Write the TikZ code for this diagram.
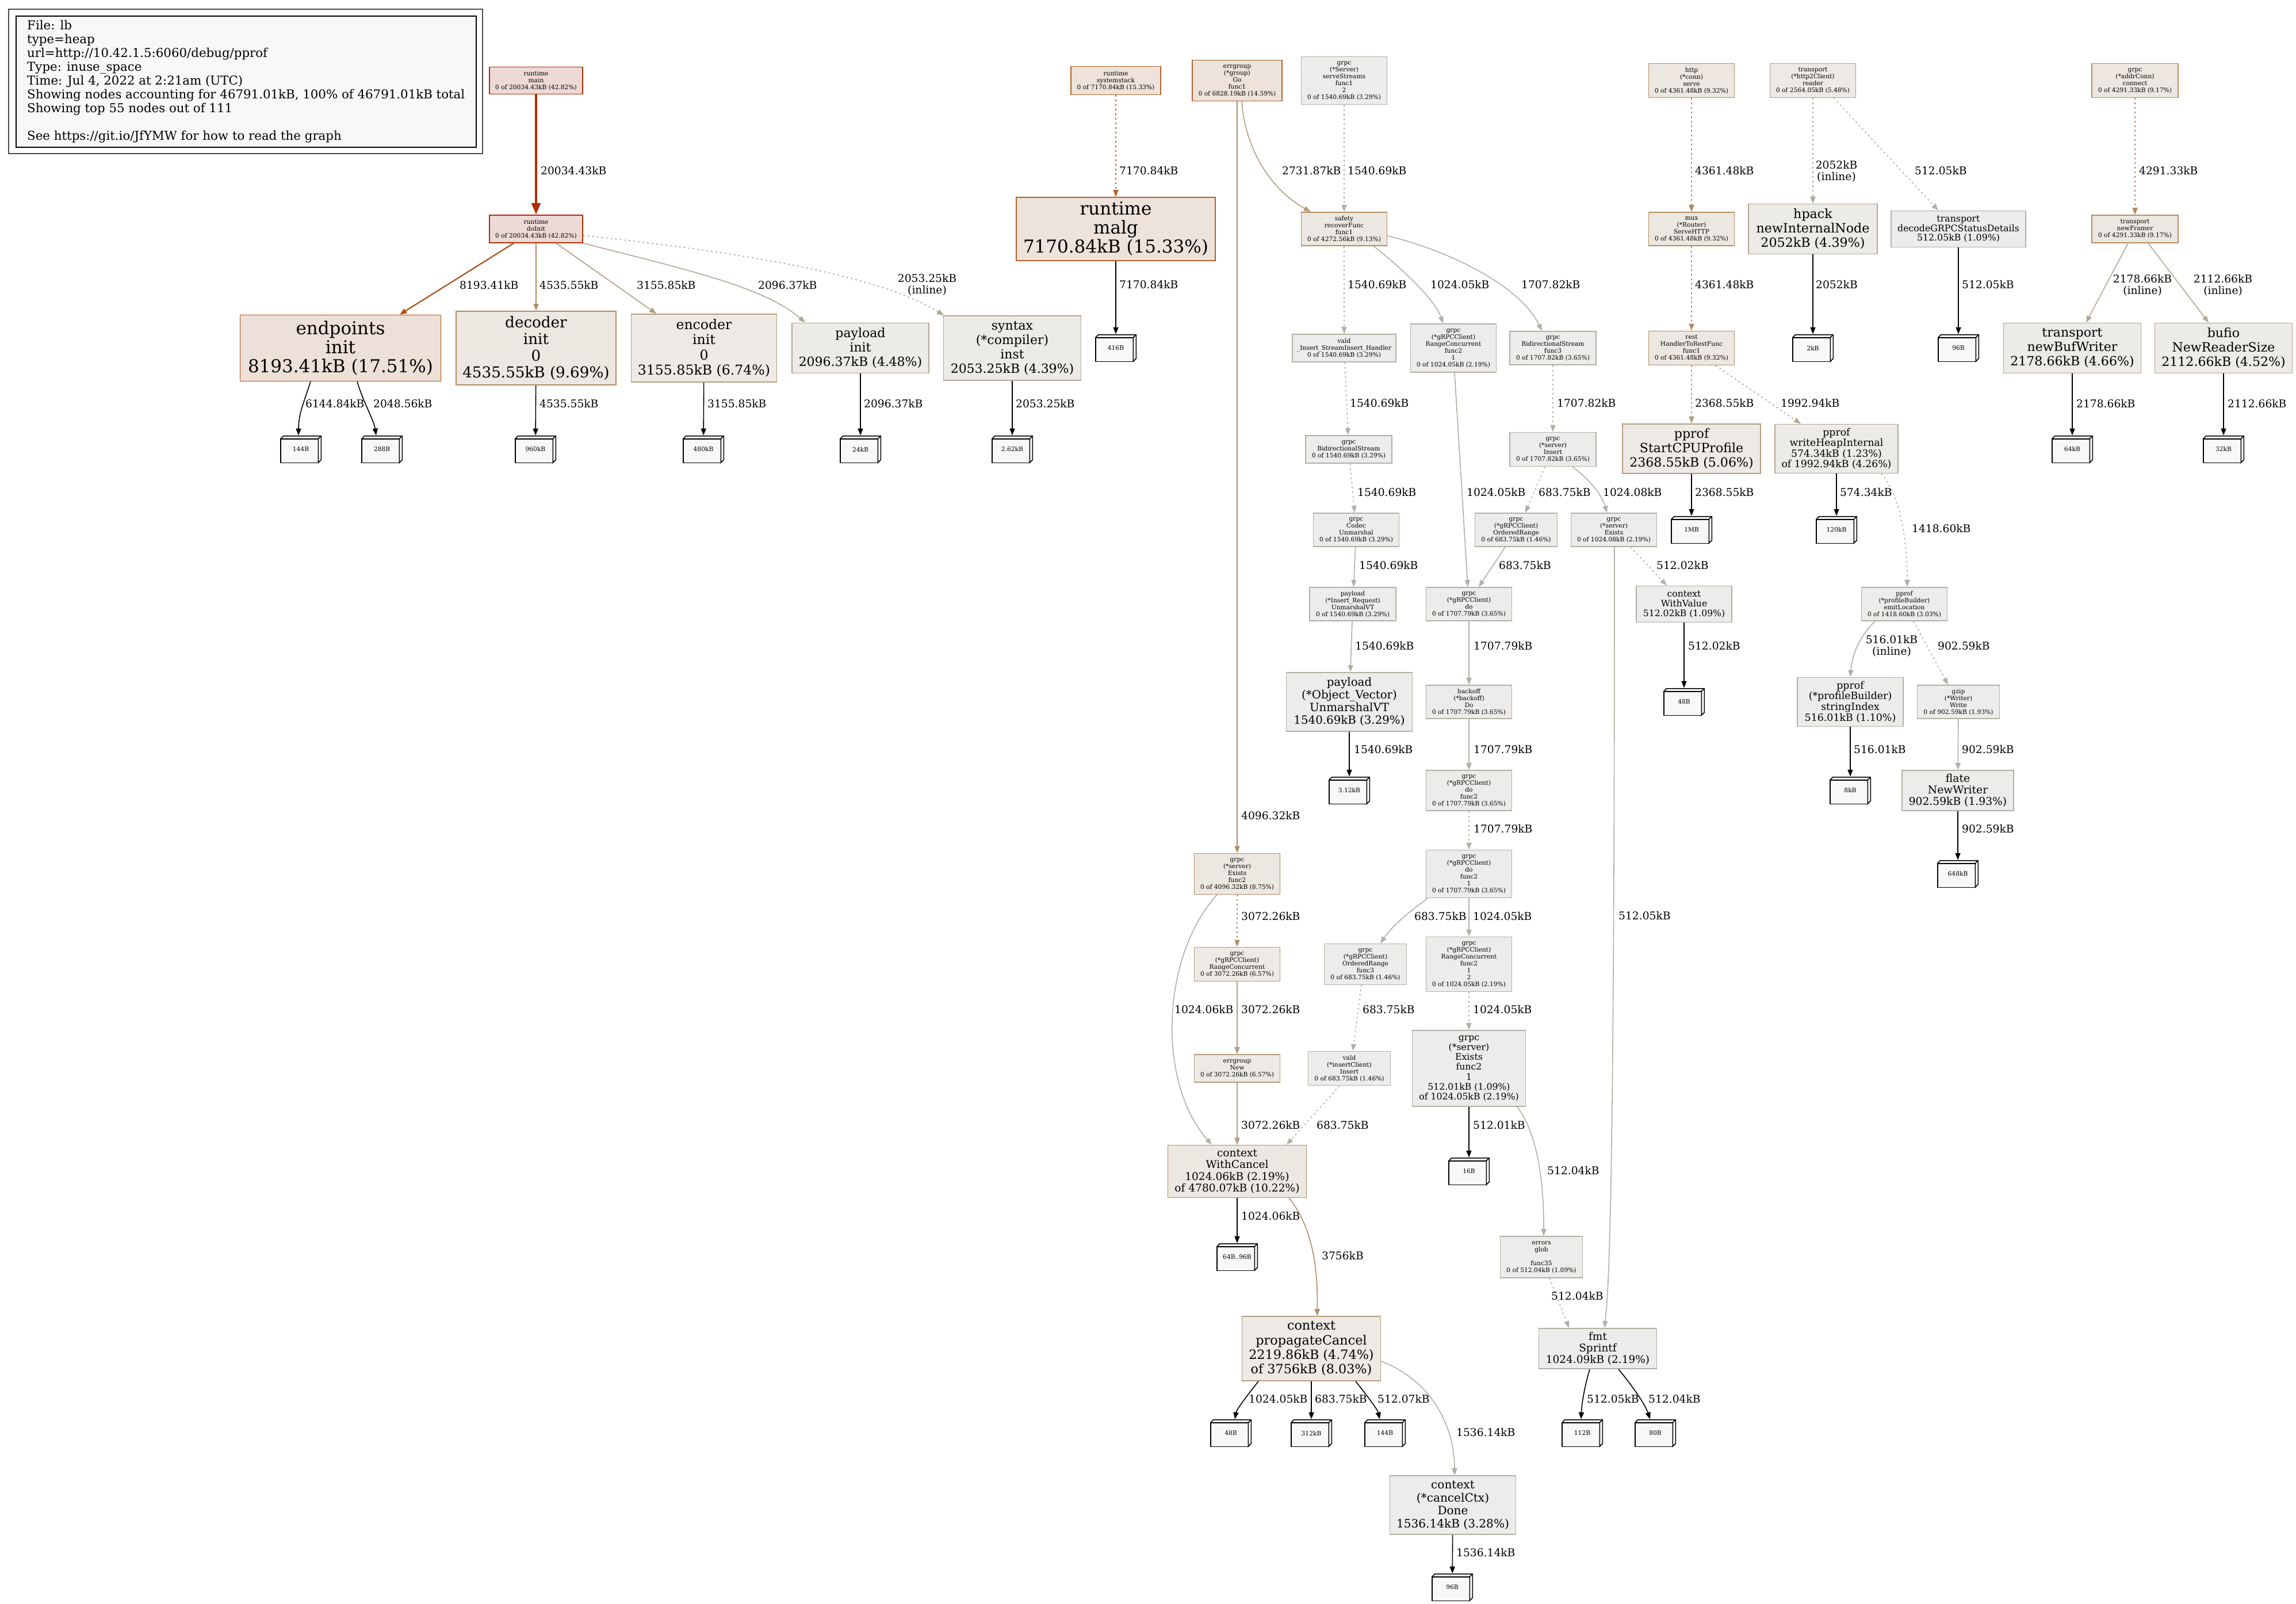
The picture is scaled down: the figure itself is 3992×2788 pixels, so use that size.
\documentclass[tikz,border=0pt]{standalone}
\usepackage{fontspec}
\setmainfont{DejaVu Serif}
\usetikzlibrary{arrows.meta}

\definecolor{hotfill}{HTML}{EDD9D5}
\definecolor{hotline}{HTML}{B22D00}
\definecolor{orfill}{HTML}{EDE0D8}
\definecolor{orline}{HTML}{B24F16}
\definecolor{brfill}{HTML}{EDE3DB}
\definecolor{brline}{HTML}{B2622B}
\definecolor{tanfill}{HTML}{EDE7E1}
\definecolor{tanline}{HTML}{B28E62}
\definecolor{ltfill}{HTML}{EDE9E5}
\definecolor{ltline}{HTML}{B29D7C}
\definecolor{grfill}{HTML}{EDEBE8}
\definecolor{grline}{HTML}{B2A793}
\definecolor{gyfill}{HTML}{EDECEA}
\definecolor{gyline}{HTML}{B2AFA6}
\definecolor{leaffill}{HTML}{F8F8F8}
\definecolor{cEor}{HTML}{B28A5C}

\tikzset{
  fnode/.style={draw, line width=1.6pt, inner sep=0pt, align=center},
  hotnode/.style={fnode, fill=hotfill, draw=hotline},
  ornode/.style={fnode, fill=orfill, draw=orline},
  brnode/.style={fnode, fill=brfill, draw=brline},
  tannode/.style={fnode, fill=tanfill, draw=tanline},
  ltnode/.style={fnode, fill=ltfill, draw=ltline},
  grnode/.style={fnode, fill=grfill, draw=grline},
  gynode/.style={fnode, fill=gyfill, draw=gyline},
  wh/.style 2 args={minimum width=#1pt, minimum height=#2pt},
  fnt/.style 2 args={font=\fontsize{#1}{#2}\selectfont},
  sm/.style={fnt={10.67}{12}},
  leafline/.style={draw=black, fill=leaffill, line width=1.5pt},
  leaf/.style={minimum width=72pt, minimum height=48pt, inner sep=0pt, fill=white, sm,
    path picture={
      \path (path picture bounding box.south west) coordinate (lsw);
      \filldraw[leafline] ([shift={(0.75pt,0.75pt)}]lsw) rectangle ([shift={(66.25pt,42.25pt)}]lsw);
      \filldraw[leafline] ([shift={(0.75pt,42.25pt)}]lsw) -- ([shift={(5.75pt,47.25pt)}]lsw)
        -- ([shift={(71.25pt,47.25pt)}]lsw) -- ([shift={(71.25pt,5.75pt)}]lsw)
        -- ([shift={(66.25pt,0.75pt)}]lsw) -- ([shift={(66.25pt,42.25pt)}]lsw) -- cycle;
      \draw[leafline] ([shift={(66.25pt,42.25pt)}]lsw) -- ([shift={(71.25pt,47.25pt)}]lsw);
    }},
  arr/.style={-{Triangle[length=12pt,width=9pt]}, line width=1.6pt},
  ind/.style={dash pattern=on 3pt off 5pt},
  mainedge/.style={color=hotline, line width=4.5pt, -{Triangle[length=20pt,width=15pt]}},
  eendp/.style={color=orline, line width=2.2pt},
  ebr/.style={color=brline},
  etan/.style={color=tanline},
  elt/.style={color=ltline},
  egr/.style={color=grline},
  egy/.style={color=gyline},
  eor/.style={color=cEor},
  eleaf/.style={color=black},
  lbl/.style={anchor=west, inner sep=0pt, fnt={18.67}{20.5}},
  lblc/.style={align=center, inner sep=0pt, fnt={18.67}{20.5}},
  legendbox/.style={draw=black, line width=1.6pt, fill=leaffill, anchor=north west, wh={800}{228},
    inner xsep=10pt, inner ysep=0pt, align=left, fnt={21.33}{24}},
  legendframe/.style={draw=black!70, line width=2pt},
}

\begin{document}
\begin{tikzpicture}[x=1pt,y=-1pt]
  \fill[white] (0,0) rectangle (3992,2788);
  \useasboundingbox (0,0) rectangle (3992,2788);

  \node[legendbox] (legend) at (27,27) {File: lb\\type=heap\\url=http://10.42.1.5:6060/debug/pprof\\Type: inuse\_space\\Time: Jul 4, 2022 at 2:21am (UTC)\\Showing nodes accounting for 46791.01kB, 100\% of 46791.01kB total\\Showing top 55 nodes out of 111\\[24pt]See https://git.io/JfYMW for how to read the graph};
  \draw[legendframe] ([xshift=-12pt,yshift=11pt]legend.north west) rectangle ([xshift=10pt,yshift=-10pt]legend.south east);

  \node[hotnode, sm, wh={162}{47}] (main) at (932,140) {runtime\\main\\0 of 20034.43kB (42.82\%)};
  \node[brnode, sm, wh={156}{49}] (sysstack) at (1940,140) {runtime\\systemstack\\0 of 7170.84kB (15.33\%)};
  \node[brnode, sm, wh={156}{71}] (errgo) at (2151,140) {errgroup\\(*group)\\Go\\func1\\0 of 6828.19kB (14.59\%)};
  \node[gynode, sm, wh={149}{83}] (serve) at (2337,140) {grpc\\(*Server)\\serveStreams\\func1\\2\\0 of 1540.69kB (3.29\%)};
  \node[tannode, sm, wh={149}{59}] (conn) at (2941,140) {http\\(*conn)\\serve\\0 of 4361.48kB (9.32\%)};
  \node[ltnode, sm, wh={149}{59}] (reader) at (3152,140) {transport\\(*http2Client)\\reader\\0 of 2564.05kB (5.48\%)};
  \node[tannode, sm, wh={150}{59}] (connect) at (3712,140) {grpc\\(*addrConn)\\connect\\0 of 4291.33kB (9.17\%)};

  \node[hotnode, sm, wh={162}{48}] (doinit) at (932,398) {runtime\\doInit\\0 of 20034.43kB (42.82\%)};
  \node[brnode, fnt={31}{33}, wh={346}{110}] (malg) at (1940,398) {runtime\\malg\\7170.84kB (15.33\%)};
  \node[tannode, sm, wh={149}{58}] (safety) at (2337,398) {safety\\recoverFunc\\func1\\0 of 4272.56kB (9.13\%)};
  \node[tannode, sm, wh={149}{58}] (mux) at (2941,398) {mux\\(*Router)\\ServeHTTP\\0 of 4361.48kB (9.32\%)};
  \node[grnode, fnt={22.2}{25}, wh={224}{87}] (hpack) at (3152,398) {hpack\\newInternalNode\\2052kB (4.39\%)};
  \node[gynode, fnt={15.8}{16.6}, wh={234}{63}] (decode) at (3405,398) {transport\\decodeGRPCStatusDetails\\512.05kB (1.09\%)};
  \node[tannode, sm, wh={150}{48}] (framer) at (3712,398) {transport\\newFramer\\0 of 4291.33kB (9.17\%)};

  \node[ornode, fnt={31}{33.3}, wh={349}{115}] (endpoints) at (592,605) {endpoints\\init\\8193.41kB (17.51\%)};
  \node[tannode, fnt={26.2}{28.9}, wh={278}{128}] (decoder) at (932,605) {decoder\\init\\0\\4535.55kB (9.69\%)};
  \node[ltnode, fnt={23.6}{26.3}, wh={253}{118}] (encoder) at (1224,605) {encoder\\init\\0\\3155.85kB (6.74\%)};
  \node[grnode, fnt={22}{25}, wh={238}{87}] (plinit) at (1496,605) {payload\\init\\2096.37kB (4.48\%)};
  \node[grnode, fnt={22}{25}, wh={239}{112}] (syntax) at (1760,605) {syntax\\(*compiler)\\inst\\2053.25kB (4.39\%)};
  \node[leaf] (c416) at (1940,605) {416B};
  \node[gynode, sm, wh={180}{48}] (vald) at (2337,605) {vald\\\_Insert\_StreamInsert\_Handler\\0 of 1540.69kB (3.29\%)};
  \node[gynode, sm, wh={149}{84}] (rc1) at (2527,605) {grpc\\(*gRPCClient)\\RangeConcurrent\\func2\\1\\0 of 1024.05kB (2.19\%)};
  \node[gynode, sm, wh={150}{58}] (bidi3) at (2700,605) {grpc\\BidirectionalStream\\func3\\0 of 1707.82kB (3.65\%)};
  \node[tannode, sm, wh={149}{59}] (rest) at (2941,605) {rest\\HandlerToRestFunc\\func1\\0 of 4361.48kB (9.32\%)};
  \node[leaf] (c2k) at (3152,605) {2kB};
  \node[leaf] (c96a) at (3405,605) {96B};
  \node[grnode, fnt={22.1}{25}, wh={239}{87}] (bufwriter) at (3603,605) {transport\\newBufWriter\\2178.66kB (4.66\%)};
  \node[grnode, fnt={22.1}{25}, wh={239}{87}] (bufio) at (3866,605) {bufio\\NewReaderSize\\2112.66kB (4.52\%)};

  \node[leaf] (c144a) at (523,781) {144B};
  \node[leaf] (c288) at (664,781) {288B};
  \node[leaf] (c960) at (931,781) {960kB};
  \node[leaf] (c480) at (1223,781) {480kB};
  \node[leaf] (c24) at (1496,781) {24kB};
  \node[leaf] (c262) at (1760,781) {2.62kB};
  \node[gynode, sm, wh={150}{48}] (bidi) at (2345,781) {grpc\\BidirectionalStream\\0 of 1540.69kB (3.29\%)};
  \node[gynode, sm, wh={150}{59}] (insert) at (2700,781) {grpc\\(*server)\\Insert\\0 of 1707.82kB (3.65\%)};
  \node[ltnode, fnt={22.1}{25}, wh={240}{86}] (startcpu) at (2941,780) {pprof\\StartCPUProfile\\2368.55kB (5.06\%)};
  \node[grnode, fnt={17.3}{18.5}, wh={214}{85}] (heapint) at (3193,780) {pprof\\writeHeapInternal\\574.34kB (1.23\%)\\of 1992.94kB (4.26\%)};
  \node[leaf] (c64k) at (3603,781) {64kB};
  \node[leaf] (c32k) at (3866,781) {32kB};

  \node[gynode, sm, wh={149}{58}] (codec) at (2358,921) {grpc\\Codec\\Unmarshal\\0 of 1540.69kB (3.29\%)};
  \node[gynode, sm, wh={143}{58}] (ordered) at (2636,921) {grpc\\(*gRPCClient)\\OrderedRange\\0 of 683.75kB (1.46\%)};
  \node[gynode, sm, wh={149}{58}] (exists) at (2806,921) {grpc\\(*server)\\Exists\\0 of 1024.08kB (2.19\%)};
  \node[leaf] (c1mb) at (2941,921) {1MB};
  \node[leaf] (c120k) at (3193,921) {120kB};

  \node[gynode, sm, wh={150}{58}] (insreq) at (2352,1050) {payload\\(*Insert\_Request)\\UnmarshalVT\\0 of 1540.69kB (3.29\%)};
  \node[gynode, sm, wh={149}{58}] (clientdo) at (2554,1050) {grpc\\(*gRPCClient)\\do\\0 of 1707.79kB (3.65\%)};
  \node[gynode, fnt={15.6}{17}, wh={166}{63}] (withvalue) at (2928,1050) {context\\WithValue\\512.02kB (1.09\%)};
  \node[gynode, sm, wh={149}{58}] (emitloc) at (3311,1050) {pprof\\(*profileBuilder)\\emitLocation\\0 of 1418.60kB (3.03\%)};

  \node[gynode, fnt={19.8}{22}, wh={219}{102}] (objvec) at (2346,1220) {payload\\(*Object\_Vector)\\UnmarshalVT\\1540.69kB (3.29\%)};
  \node[gynode, sm, wh={149}{58}] (backoff) at (2554,1220) {backoff\\(*backoff)\\Do\\0 of 1707.79kB (3.65\%)};
  \node[leaf] (c48a) at (2928,1220) {48B};
  \node[gynode, fnt={17.4}{18.7}, wh={184}{85}] (strindex) at (3217,1220) {pprof\\(*profileBuilder)\\stringIndex\\516.01kB (1.10\%)};
  \node[gynode, sm, wh={143}{58}] (gzip) at (3405,1220) {gzip\\(*Writer)\\Write\\0 of 902.59kB (1.93\%)};

  \node[leaf] (c312a) at (2346,1374) {3.12kB};
  \node[gynode, sm, wh={149}{70}] (dofunc) at (2554,1374) {grpc\\(*gRPCClient)\\do\\func2\\0 of 1707.79kB (3.65\%)};
  \node[leaf] (c8k) at (3217,1374) {8kB};
  \node[gynode, fnt={18.7}{20}, wh={194}{70}] (flate) at (3404,1374) {flate\\NewWriter\\902.59kB (1.93\%)};

  \node[tannode, sm, wh={149}{71}] (existsf) at (2151,1519) {grpc\\(*server)\\Exists\\func2\\0 of 4096.32kB (8.75\%)};
  \node[gynode, sm, wh={149}{83}] (dofunc1) at (2554,1519) {grpc\\(*gRPCClient)\\do\\func2\\1\\0 of 1707.79kB (3.65\%)};
  \node[leaf] (c648) at (3404,1519) {648kB};

  \node[ltnode, sm, wh={149}{59}] (rcon) at (2151,1676) {grpc\\(*gRPCClient)\\RangeConcurrent\\0 of 3072.26kB (6.57\%)};
  \node[gynode, sm, wh={143}{71}] (ordf3) at (2374,1676) {grpc\\(*gRPCClient)\\OrderedRange\\func3\\0 of 683.75kB (1.46\%)};
  \node[gynode, sm, wh={149}{95}] (rc12) at (2554,1676) {grpc\\(*gRPCClient)\\RangeConcurrent\\func2\\1\\2\\0 of 1024.05kB (2.19\%)};

  \node[ltnode, sm, wh={149}{48}] (egnew) at (2151,1857) {errgroup\\New\\0 of 3072.26kB (6.57\%)};
  \node[gynode, sm, wh={143}{59}] (valdins) at (2346,1857) {vald\\(*insertClient)\\Insert\\0 of 683.75kB (1.46\%)};
  \node[gynode, fnt={15.7}{17.2}, wh={197}{132}] (existsf1) at (2554,1857) {grpc\\(*server)\\Exists\\func2\\1\\512.01kB (1.09\%)\\of 1024.05kB (2.19\%)};

  \node[tannode, fnt={18.6}{20.5}, wh={241}{91}] (withcancel) at (2151,2036) {context\\WithCancel\\1024.06kB (2.19\%)\\of 4780.07kB (10.22\%)};
  \node[leaf] (c16) at (2554,2036) {16B};
  \node[leaf] (c6496) at (2151,2185) {64B..96B};
  \node[gynode, sm, wh={143}{72}] (glob) at (2680,2185) {errors\\glob\\[12pt]func35\\0 of 512.04kB (1.09\%)};

  \node[ltnode, fnt={22.3}{25.4}, wh={241}{112}] (propcancel) at (2280,2344) {context\\propagateCancel\\2219.86kB (4.74\%)\\of 3756kB (8.03\%)};
  \node[gynode, fnt={18.5}{20}, wh={205}{70}] (sprintf) at (2778,2344) {fmt\\Sprintf\\1024.09kB (2.19\%)};
  \node[leaf] (c48b) at (2140,2491) {48B};
  \node[leaf] (c312) at (2280,2491) {312kB};
  \node[leaf] (c144b) at (2408,2491) {144B};
  \node[leaf] (c112) at (2751,2491) {112B};
  \node[leaf] (c80) at (2878,2491) {80B};
  \node[gynode, fnt={20.1}{22.5}, wh={219}{102}] (cancelctx) at (2526,2616) {context\\(*cancelCtx)\\Done\\1536.14kB (3.28\%)};
  \node[leaf] (c96b) at (2525,2759) {96B};

  \draw[arr, mainedge] (main) -- (doinit);
  \node[lbl] (w1) at (940,297) {20034.43kB};
  \draw[arr, eendp] ([xshift=-39pt]doinit.south) -- ([xshift=103pt]endpoints.north);
  \node[lbl] (w2) at (799,496) {8193.41kB};
  \draw[arr, etan] (doinit) -- (decoder);
  \node[lbl] (w3) at (938,496) {4535.55kB};
  \draw[arr, elt] ([xshift=35pt]doinit.south) -- ([xshift=-83pt]encoder.north);
  \node[lbl] (w4) at (1107,496) {3155.85kB};
  \draw[arr, egr] (doinit.south east) .. controls (1200,470) and (1330,500) .. ([xshift=-96pt]plinit.north);
  \node[lbl] (w5) at (1318,496) {2096.37kB};
  \draw[arr, egr, ind] ([yshift=-11pt]doinit.east) .. controls (1150,425) and (1500,460) .. ([xshift=-119pt]syntax.north);
  \node[lblc] (w6) at (1612,495) {2053.25kB\\(inline)};

  \draw[arr, eleaf] ([xshift=-52pt]endpoints.south) .. controls (528,700) and (519,720) .. ([xshift=-4pt]c144a.north);
  \node[lbl] (w7) at (531,702) {6144.84kB};
  \draw[arr, eleaf] ([xshift=29pt]endpoints.south) .. controls (632,700) and (650,730) .. ([xshift=-10pt]c288.north);
  \node[lbl] (w8) at (649,702) {2048.56kB};
  \draw[arr, eleaf] (decoder) -- (c960);
  \node[lbl] (w9) at (938,702) {4535.55kB};
  \draw[arr, eleaf] (encoder) -- (c480);
  \node[lbl] (w10) at (1230,702) {3155.85kB};
  \draw[arr, eleaf] (plinit) -- (c24);
  \node[lbl] (w11) at (1502,702) {2096.37kB};
  \draw[arr, eleaf] (syntax) -- (c262);
  \node[lbl] (w12) at (1766,702) {2053.25kB};

  \draw[arr, ebr, ind] (sysstack) -- (malg);
  \node[lbl] (w13) at (1946,297) {7170.84kB};
  \draw[arr, eleaf] (malg) -- (c416);
  \node[lbl] (w14) at (1946,495) {7170.84kB};
  \draw[arr, elt] ([xshift=8pt]errgo.south) .. controls (2165,260) and (2210,330) .. ([xshift=-58pt]safety.north);
  \node[lbl] (w15) at (2229,297) {2731.87kB};
  \draw[arr, etan] (errgo) -- (existsf);
  \node[lbl] (w16) at (2158,1418) {4096.32kB};
  \draw[arr, egy, ind] (serve) -- (safety);
  \node[lbl] (w17) at (2343,297) {1540.69kB};
  \draw[arr, egy, ind] (safety) -- (vald);
  \node[lbl] (w18) at (2343,495) {1540.69kB};
  \draw[arr, egy] ([xshift=51pt]safety.south) .. controls (2430,460) and (2495,520) .. ([xshift=-18pt]rc1.north);
  \node[lbl] (w19) at (2487,495) {1024.05kB};
  \draw[arr, egy] ([yshift=-12pt]safety.east) .. controls (2500,430) and (2640,490) .. ([xshift=-19pt]bidi3.north);
  \node[lbl] (w20) at (2645,495) {1707.82kB};

  \draw[arr, egy, ind] (vald) -- (bidi);
  \node[lbl] (w21) at (2347,701) {1540.69kB};
  \draw[arr, egy, ind] (bidi) -- (codec);
  \node[lbl] (w22) at (2360,856) {1540.69kB};
  \draw[arr, egy] (codec) -- (insreq);
  \node[lbl] (w23) at (2363,983) {1540.69kB};
  \draw[arr, egy] (insreq) -- (objvec);
  \node[lbl] (w24) at (2356,1123) {1540.69kB};
  \draw[arr, eleaf] (objvec) -- (c312a);
  \node[lbl] (w25) at (2354,1303) {1540.69kB};

  \draw[arr, egy] ([xshift=2pt]rc1.south) -- ([xshift=-2pt]clientdo.north);
  \node[lbl] (w26) at (2550,856) {1024.05kB};
  \draw[arr, egy, ind] (bidi3) -- (insert);
  \node[lbl] (w27) at (2707,701) {1707.82kB};
  \draw[arr, egy, ind] ([xshift=-14pt]insert.south) -- ([xshift=16pt]ordered.north);
  \node[lbl] (w28) at (2675,856) {683.75kB};
  \draw[arr, egy] ([xshift=34pt]insert.south) .. controls (2765,835) and (2785,860) .. ([xshift=-12pt]exists.north);
  \node[lbl] (w29) at (2787,856) {1024.08kB};
  \draw[arr, egy] ([xshift=-19pt]ordered.south) -- ([xshift=17pt]clientdo.north);
  \node[lbl] (w30) at (2606,983) {683.75kB};
  \draw[arr, egy] (clientdo) -- (backoff);
  \node[lbl] (w31) at (2562,1123) {1707.79kB};
  \draw[arr, egy] (backoff) -- (dofunc);
  \node[lbl] (w32) at (2562,1303) {1707.79kB};
  \draw[arr, egy, ind] (dofunc) -- (dofunc1);
  \node[lbl] (w33) at (2562,1441) {1707.79kB};
  \draw[arr, egy] ([xshift=-72pt]dofunc1.south) .. controls (2450,1585) and (2420,1610) .. ([xshift=26pt]ordf3.north);
  \node[lbl] (w34) at (2459,1593) {683.75kB};
  \draw[arr, egy] (dofunc1) -- (rc12);
  \node[lbl] (w35) at (2561,1593) {1024.05kB};

  \draw[arr, etan, ind] (existsf) -- (rcon);
  \node[lbl] (w36) at (2158,1593) {3072.26kB};
  \draw[arr, elt] (rcon) -- (egnew);
  \node[lbl] (w37) at (2158,1755) {3072.26kB};
  \draw[arr, elt] (egnew) -- (withcancel);
  \node[lbl] (w38) at (2158,1956) {3072.26kB};
  \draw[arr, egy] ([xshift=-35pt]existsf.south) .. controls (2020,1660) and (2010,1880) .. ([xshift=-44pt]withcancel.north);
  \node[lbl] (w39) at (2042,1755) {1024.06kB};
  \draw[arr, egy, ind] ([xshift=-7pt]ordf3.south) -- ([xshift=6pt]valdins.north);
  \node[lbl] (w40) at (2369,1755) {683.75kB};
  \draw[arr, egy, ind] ([xshift=-17pt]valdins.south) -- ([xshift=86pt]withcancel.north);
  \node[lbl] (w41) at (2289,1956) {683.75kB};
  \draw[arr, egy, ind] (rc12) -- (existsf1);
  \node[lbl] (w42) at (2561,1755) {1024.05kB};
  \draw[arr, eleaf] (existsf1) -- (c16);
  \node[lbl] (w43) at (2561,1956) {512.01kB};
  \draw[arr, egy] ([xshift=84pt]existsf1.south) .. controls (2680,1980) and (2684,2080) .. ([xshift=4pt]glob.north);
  \node[lbl] (w44) at (2690,2035) {512.04kB};
  \draw[arr, egy, ind] (glob) -- ([xshift=-50pt]sprintf.north);
  \node[lbl] (w45) at (2697,2253) {512.04kB};
  \draw[arr, egy] ([xshift=1pt]exists.south) .. controls (2807,2200) and (2795,2250) .. ([xshift=12pt]sprintf.north);
  \node[lbl] (w46) at (2814,1592) {512.05kB};
  \draw[arr, eleaf] ([xshift=-14pt]sprintf.south) .. controls (2755,2410) and (2750,2440) .. ([xshift=-2pt]c112.north);
  \node[lbl] (w47) at (2759,2432) {512.05kB};
  \draw[arr, eleaf] ([xshift=36pt]sprintf.south) .. controls (2835,2405) and (2860,2440) .. ([xshift=-9pt]c80.north);
  \node[lbl] (w48) at (2866,2432) {512.04kB};

  \draw[arr, eleaf] (withcancel) -- (c6496);
  \node[lbl] (w49) at (2158,2114) {1024.06kB};
  \draw[arr, etan] ([xshift=90pt]withcancel.south) .. controls (2280,2130) and (2292,2200) .. ([xshift=10pt]propcancel.north);
  \node[lbl] (w50) at (2298,2183) {3756kB};
  \draw[arr, eleaf] ([xshift=-92pt]propcancel.south) .. controls (2165,2430) and (2150,2450) .. ([xshift=7pt]c48b.north);
  \node[lbl] (w51) at (2171,2432) {1024.05kB};
  \draw[arr, eleaf] (propcancel) -- (c312);
  \node[lbl] (w52) at (2286,2432) {683.75kB};
  \draw[arr, eleaf] ([xshift=77pt]propcancel.south) .. controls (2380,2430) and (2395,2450) .. ([xshift=-9pt]c144b.north);
  \node[lbl] (w53) at (2395,2432) {512.07kB};
  \draw[arr, egy] ([yshift=-22pt]propcancel.east) .. controls (2490,2400) and (2529,2480) .. ([xshift=3pt]cancelctx.north);
  \node[lbl] (w54) at (2532,2490) {1536.14kB};
  \draw[arr, eleaf] (cancelctx) -- (c96b);
  \node[lbl] (w55) at (2532,2699) {1536.14kB};

  \draw[arr, eor, ind] (conn) -- (mux);
  \node[lbl] (w56) at (2947,297) {4361.48kB};
  \draw[arr, eor, ind] (mux) -- (rest);
  \node[lbl] (w57) at (2947,495) {4361.48kB};
  \draw[arr, elt, ind] (rest) -- (startcpu);
  \node[lbl] (w58) at (2947,701) {2368.55kB};
  \draw[arr, egr, ind] ([xshift=42pt]rest.south) -- ([xshift=-62pt]heapint.north);
  \node[lbl] (w59) at (3096,701) {1992.94kB};
  \draw[arr, eleaf] (startcpu) -- (c1mb);
  \node[lbl] (w60) at (2947,856) {2368.55kB};
  \draw[arr, eleaf] (heapint) -- (c120k);
  \node[lbl] (w61) at (3199,856) {574.34kB};
  \draw[arr, egy, ind] ([xshift=78pt]heapint.south) .. controls (3310,870) and (3316,960) .. ([xshift=5pt]emitloc.north);
  \node[lbl] (w62) at (3324,919) {1418.60kB};
  \draw[arr, egy, ind] ([xshift=29pt]exists.south) -- ([xshift=-30pt]withvalue.north);
  \node[lbl] (w63) at (2880,983) {512.02kB};
  \draw[arr, eleaf] (withvalue) -- (c48a);
  \node[lbl] (w64) at (2935,1123) {512.02kB};
  \draw[arr, egy] ([xshift=-51pt]emitloc.south) .. controls (3230,1110) and (3220,1140) .. (strindex.north);
  \node[lblc] (w65) at (3289,1123) {516.01kB\\(inline)};
  \draw[arr, egy, ind] ([xshift=16pt]emitloc.south) -- ([xshift=-18pt]gzip.north);
  \node[lbl] (w66) at (3369,1123) {902.59kB};
  \draw[arr, eleaf] (strindex) -- (c8k);
  \node[lbl] (w67) at (3223,1303) {516.01kB};
  \draw[arr, egy] (gzip) -- (flate);
  \node[lbl] (w68) at (3411,1303) {902.59kB};
  \draw[arr, eleaf] (flate) -- (c648);
  \node[lbl] (w69) at (3411,1441) {902.59kB};

  \draw[arr, egr, ind] (reader) -- (hpack);
  \node[lblc] (w70) at (3193,298) {2052kB\\(inline)};
  \draw[arr, egy, ind] ([xshift=36pt]reader.south) -- ([xshift=-35pt]decode.north);
  \node[lbl] (w71) at (3329,297) {512.05kB};
  \draw[arr, eleaf] (hpack) -- (c2k);
  \node[lbl] (w72) at (3157,495) {2052kB};
  \draw[arr, eleaf] (decode) -- (c96a);
  \node[lbl] (w73) at (3411,495) {512.05kB};
  \draw[arr, eor, ind] (connect) -- (framer);
  \node[lbl] (w74) at (3719,297) {4291.33kB};
  \draw[arr, egr] ([xshift=-12pt]framer.south) -- ([xshift=24pt]bufwriter.north);
  \node[lblc] (w75) at (3725,496) {2178.66kB\\(inline)};
  \draw[arr, egr] ([xshift=23pt]framer.south) -- ([xshift=-26pt]bufio.north);
  \node[lblc] (w76) at (3865,496) {2112.66kB\\(inline)};
  \draw[arr, eleaf] (bufwriter) -- (c64k);
  \node[lbl] (w77) at (3610,702) {2178.66kB};
  \draw[arr, eleaf] (bufio) -- (c32k);
  \node[lbl] (w78) at (3873,702) {2112.66kB};
\end{tikzpicture}
\end{document}
